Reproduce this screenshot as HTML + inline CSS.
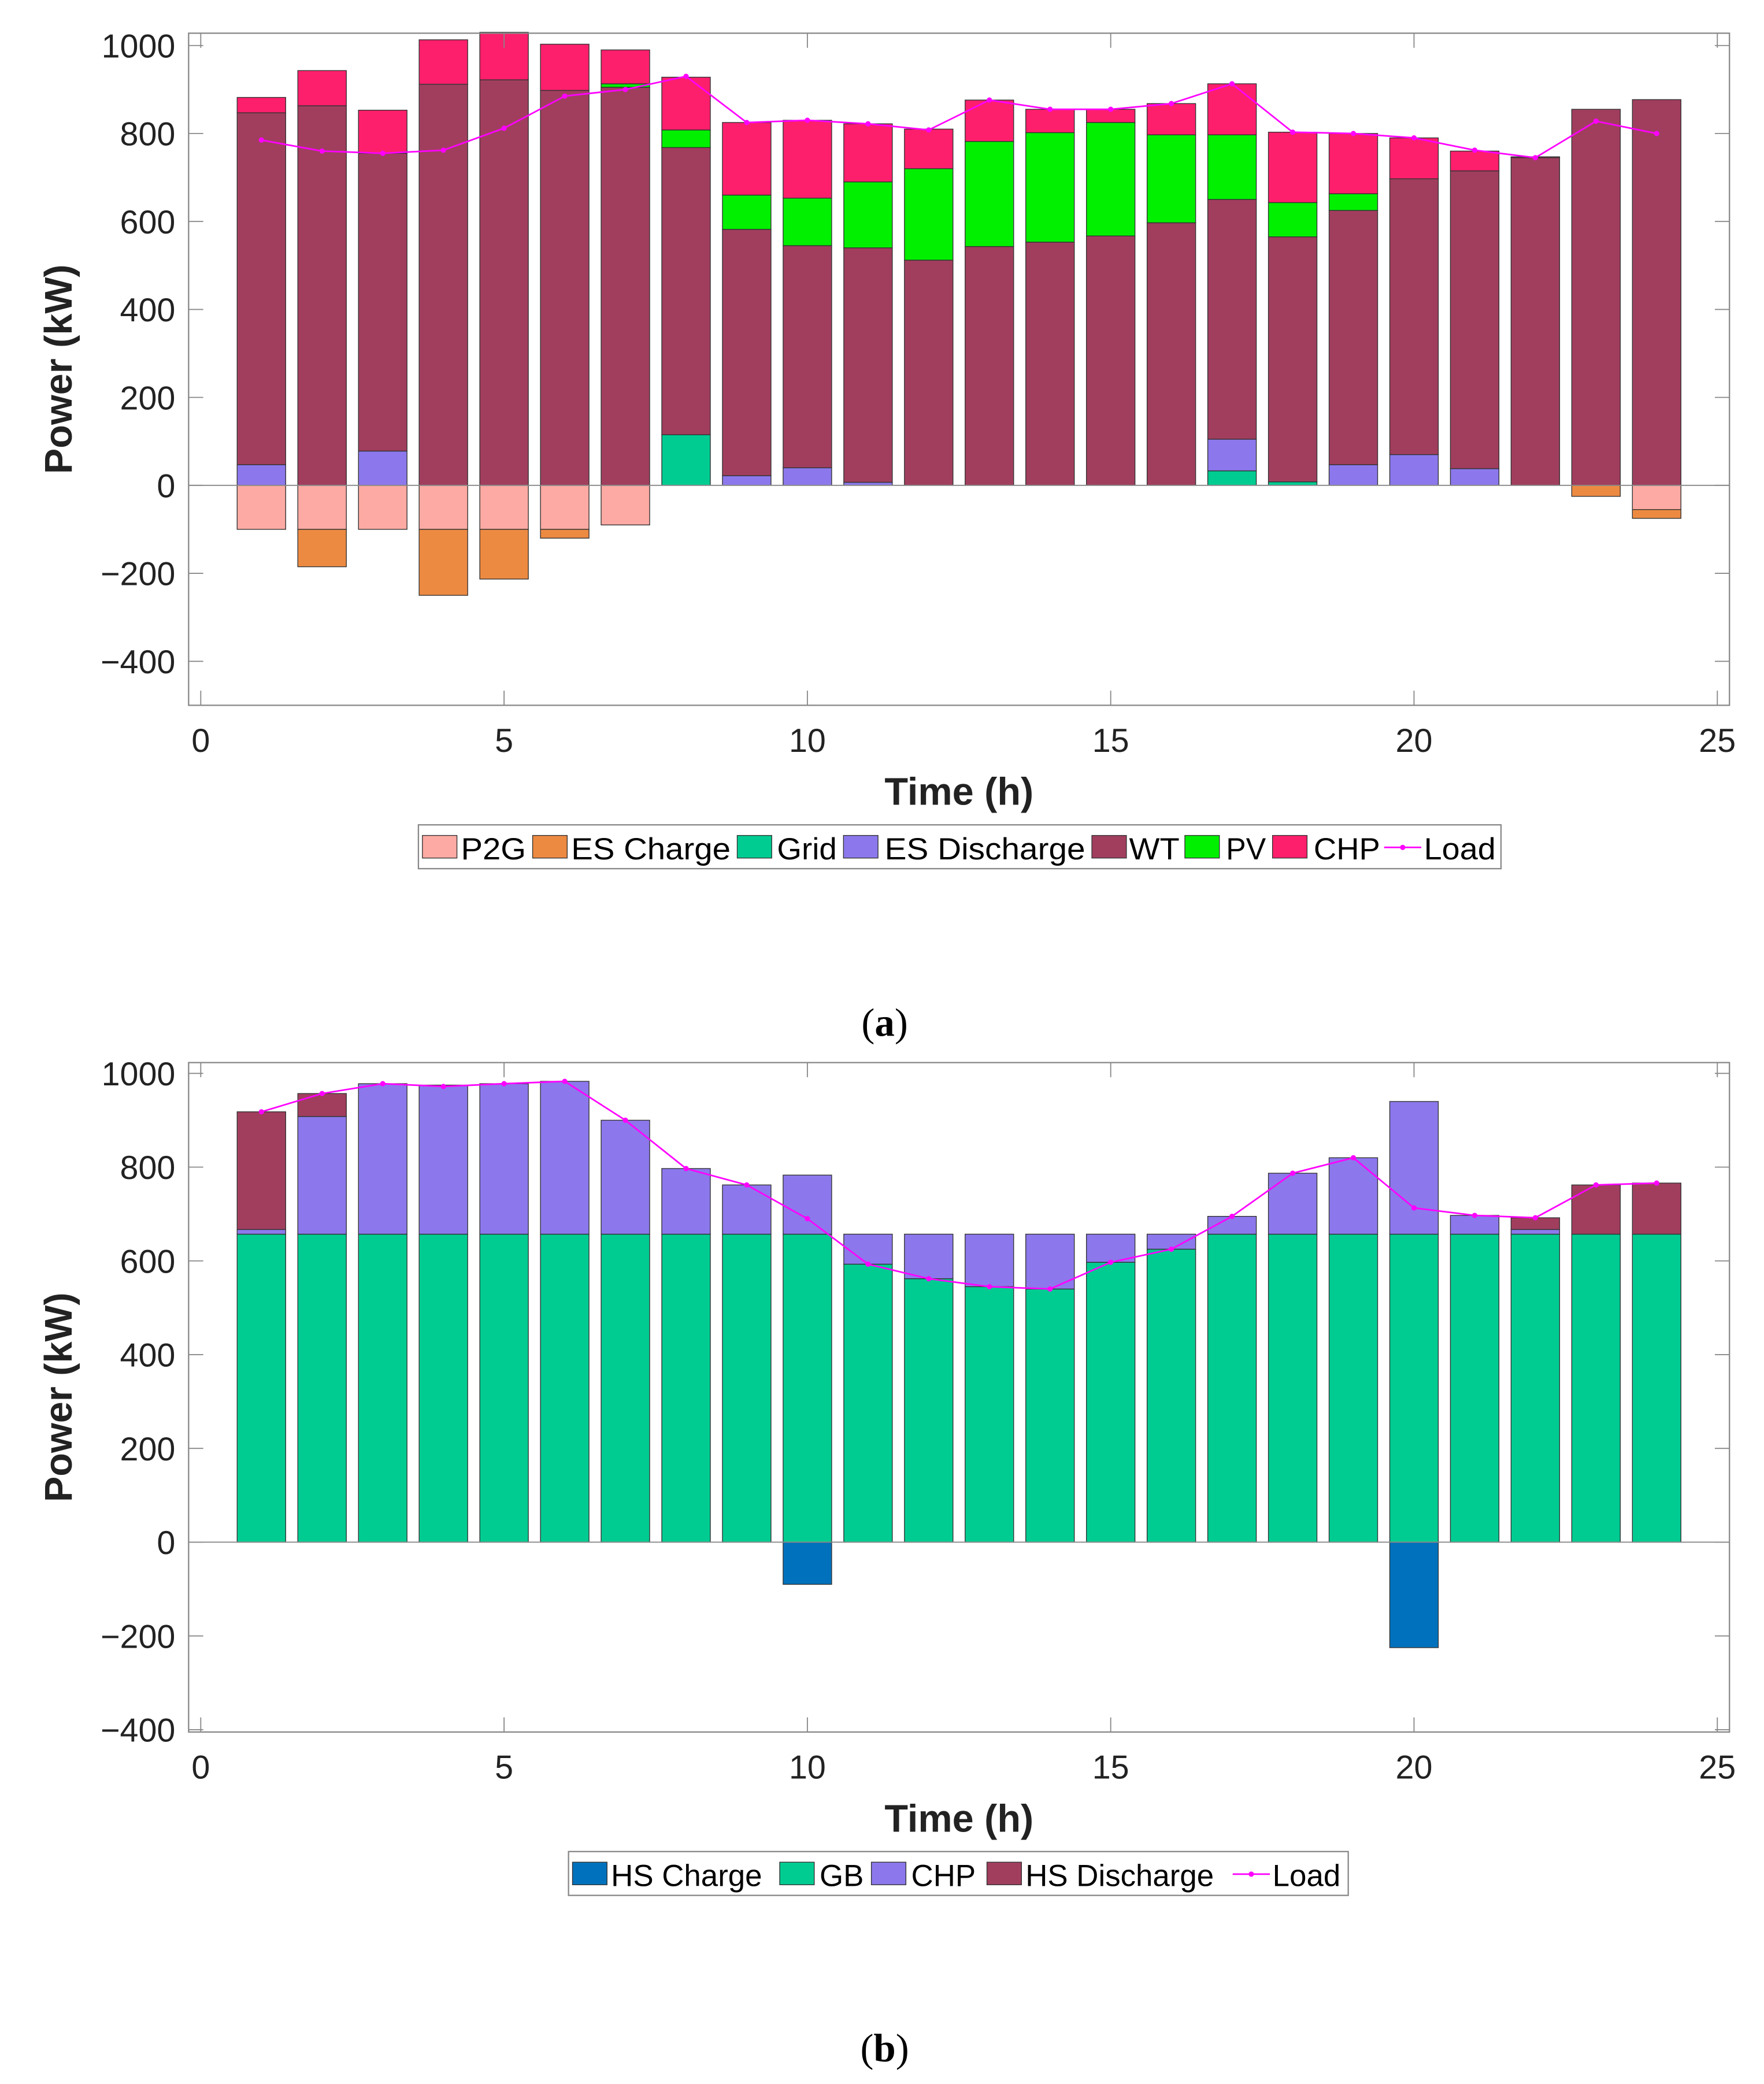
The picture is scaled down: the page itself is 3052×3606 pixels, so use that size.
<!DOCTYPE html>
<html><head><meta charset="utf-8"><style>
html,body{margin:0;padding:0;background:#fff;}
svg{display:block;font-family:"Liberation Sans",Arial,sans-serif;}
</style></head><body>
<svg id="root" width="3052" height="3606" viewBox="0 0 1328 1569" preserveAspectRatio="none" xmlns="http://www.w3.org/2000/svg">
<g id="ga"></g>
<g id="gb"></g>
<text x="666" y="780" text-anchor="middle" font-family="Liberation Serif, serif" font-size="30">(<tspan font-weight="bold">a</tspan>)</text>
<text x="666" y="1552" text-anchor="middle" font-family="Liberation Serif, serif" font-size="30">(<tspan font-weight="bold">b</tspan>)</text>
</svg>
<script>
const hours=[1,2,3,4,5,6,7,8,9,10,11,12,13,14,15,16,17,18,19,20,21,22,23,24];
// Chart (a) series
const aP2G=[-100,-100,-100,-100,-100,-100,-90,0,0,0,0,0,0,0,0,0,0,0,0,0,0,0,0,-55];
const aESC=[0,-85,0,-150,-113,-20,0,0,0,0,0,0,0,0,0,0,0,0,0,0,0,0,-25,-20];
const aGrid=[0,0,0,0,0,0,0,115,0,0,0,0,0,0,0,0,33,8,0,0,0,0,0,0];
const aESD=[47,0,78,0,0,0,0,0,22,40,7,0,0,0,0,0,72,0,47,70,38,0,0,0];
const aWT=[800,863,677,912,922,898,905,653,560,505,533,512,543,553,567,597,545,557,578,627,677,745,855,877];
const aPV=[0,0,0,0,0,0,8,40,78,108,150,208,239,249,258,200,147,78,38,0,0,0,0,0];
const aCHP=[35,80,98,101,108,105,77,120,165,177,132,90,94,53,30,71,116,160,137,93,45,2,0,0];
const aLoad=[785,760,755,762,812,885,900,930,825,830,822,808,876,855,855,868,913,803,800,790,762,745,828,800];
// Chart (b) series
const bHSC=[0,0,0,0,0,0,0,0,0,-90,0,0,0,0,0,0,0,0,0,-225,0,0,0,0];
const bGB=[657,657,657,657,657,657,657,657,657,657,593,562,545,540,597,625,657,657,657,657,657,657,657,657];
const bCHP=[10,251,321,318,321,326,243,140,105,126,64,95,112,117,60,32,38,130,163,283,40,10,0,0];
const bHSD=[251,49,0,0,0,0,0,0,0,0,0,0,0,0,0,0,0,0,0,0,0,25,105,109];
const bLoad=[918,957,978,972,978,983,900,797,762,690,593,562,545,540,597,625,695,787,820,713,697,692,762,766];
const xTicks=[0,5,10,15,20,25];
const yTicksA=[-400,-200,0,200,400,600,800,1000];
const yTicksB=[-400,-200,0,200,400,600,800,1000];
const NS="http://www.w3.org/2000/svg";
function mk(tag,attrs,parent){const e=document.createElementNS(NS,tag);for(const k in attrs)e.setAttribute(k,attrs[k]);parent.appendChild(e);return e;}
function chart(g,cfg){
  const {top,bot,ymin,ymax}=cfg;
  const L=142,R=1302;
  const xs=v=>L+(v+0.2)/25.4*(R-L);
  const ys=v=>bot-(v-ymin)/(ymax-ymin)*(bot-top);
  hours.forEach((h,i)=>{
    let pos=0,neg=0;
    cfg.neg.forEach(s=>{const v=s.d[i];if(v<0){const r=mk('rect',{x:xs(h-0.4),y:ys(neg),width:xs(h+0.4)-xs(h-0.4),height:ys(neg+v)-ys(neg),fill:s.c,stroke:'#333','stroke-width':0.6},g);
      
      neg+=v;}});
    cfg.pos.forEach(s=>{const v=s.d[i];if(v>0){const r=mk('rect',{x:xs(h-0.4),y:ys(pos+v),width:xs(h+0.4)-xs(h-0.4),height:ys(pos)-ys(pos+v),fill:s.c,stroke:'#333','stroke-width':0.6},g);
      
      pos+=v;}});
  });
  const z=mk('line',{x1:L,x2:R,y1:ys(0),y2:ys(0),stroke:'#888','stroke-width':0.8},g);
  
  
  const pl=mk('polyline',{points:hours.map((h,i)=>xs(h)+','+ys(cfg.load[i])).join(' '),fill:'none',stroke:'#ff00ff','stroke-width':1.2},g);
  
  
  hours.forEach((h,i)=>{const c=mk('circle',{cx:xs(h),cy:ys(cfg.load[i]),r:2,fill:'#ff00ff'},g);
    
    });
  const bx=mk('rect',{x:L,y:top,width:R-L,height:bot-top,fill:'none',stroke:'#888','stroke-width':1},g);
  
  
  xTicks.forEach(t=>{const x=xs(t);
    mk('line',{x1:x,x2:x,y1:bot,y2:bot-11,stroke:'#888','stroke-width':0.8},g);
    mk('line',{x1:x,x2:x,y1:top,y2:top+11,stroke:'#888','stroke-width':0.8},g);
    const tx=mk('text',{x:x,y:bot+35,'text-anchor':'middle','font-size':25,fill:'#222'},g);tx.textContent=t;
    
    });
  cfg.yt.forEach(t=>{const y=ys(t);
    mk('line',{x1:L,x2:L+11,y1:y,y2:y,stroke:'#888','stroke-width':0.8},g);
    mk('line',{x1:R,x2:R-11,y1:y,y2:y,stroke:'#888','stroke-width':0.8},g);
    const tx=mk('text',{x:L-10,y:y+9,'text-anchor':'end','font-size':25,fill:'#222'},g);tx.textContent=(t<0?'\u2212'+(-t):t);
    
    });
  const xl=mk('text',{x:722,y:bot+75,'text-anchor':'middle','font-size':29,'font-weight':'bold',fill:'#222'},g);xl.textContent='Time (h)';
  
  
  const cy=(top+bot)/2;
  const yl=mk('text',{x:0,y:0,transform:`translate(54,${cy}) rotate(-90)`,'text-anchor':'middle','font-size':29,'font-weight':'bold',fill:'#222'},g);yl.textContent='Power (kW)';
  
  
  const lg=cfg.legend;
  const lb=mk('rect',{x:lg.x1,y:lg.y,width:lg.x2-lg.x1,height:33,fill:'#fff',stroke:'#888','stroke-width':1},g);
  
  
  lg.items.forEach(it=>{
    if(it.line){mk('line',{x1:it.sx,x2:it.sx+28,y1:lg.y+17,y2:lg.y+17,stroke:'#ff00ff','stroke-width':1.2},g);
      mk('circle',{cx:it.sx+14,cy:lg.y+17,r:2,fill:'#ff00ff'},g);}
    else{const s=mk('rect',{x:it.sx,y:lg.y+8,width:26,height:17,fill:it.c,stroke:'#333','stroke-width':0.6},g);
      
      }
    const at={x:it.tx,y:lg.y+26,'font-size':23,fill:'#000'};
    if(it.w){at.textLength=it.w;at.lengthAdjust='spacingAndGlyphs';}
    const t=mk('text',at,g);t.textContent=it.t;
    
    
  });
}
chart(document.getElementById('ga'),{top:25,bot:531,ymin:-500,ymax:1028,yt:yTicksA,load:aLoad,
  neg:[{n:'p2g',d:aP2G,c:'#fcaaa3'},{n:'es-charge',d:aESC,c:'#ed8a42'}],
  pos:[{n:'grid',d:aGrid,c:'#00cc92'},{n:'es-discharge',d:aESD,c:'#8c78ec'},{n:'wt',d:aWT,c:'#a13e5e'},{n:'pv',d:aPV,c:'#00f000'},{n:'chp',d:aCHP,c:'#fe1f6c'}],
  legend:{x1:315,x2:1130,y:621,items:[
    {sx:318,tx:347,w:49,c:'#fcaaa3',t:'P2G'},{sx:401,tx:430,w:120,c:'#ed8a42',t:'ES Charge'},{sx:555,tx:585,w:45,c:'#00cc92',t:'Grid'},
    {sx:635,tx:666,w:151,c:'#8c78ec',t:'ES Discharge'},{sx:822,tx:850,w:38,c:'#a13e5e',t:'WT'},{sx:892,tx:923,w:30,c:'#00f000',t:'PV'},
    {sx:958,tx:989,w:50,c:'#fe1f6c',t:'CHP'},{sx:1042,tx:1072,w:54,line:true,t:'Load'}]}});
chart(document.getElementById('gb'),{top:800,bot:1304,ymin:-405,ymax:1023,yt:yTicksB,load:bLoad,
  neg:[{n:'hs-charge',d:bHSC,c:'#0072bd'}],
  pos:[{n:'gb',d:bGB,c:'#00cc92'},{n:'chp',d:bCHP,c:'#8c78ec'},{n:'hs-discharge',d:bHSD,c:'#a13e5e'}],
  legend:{x1:428,x2:1015,y:1394,items:[
    {sx:431,tx:460,c:'#0072bd',t:'HS Charge'},{sx:587,tx:617,c:'#00cc92',t:'GB'},{sx:656,tx:686,c:'#8c78ec',t:'CHP'},
    {sx:743,tx:772,c:'#a13e5e',t:'HS Discharge'},{sx:928,tx:958,line:true,t:'Load'}]}});
</script>
</body></html>
